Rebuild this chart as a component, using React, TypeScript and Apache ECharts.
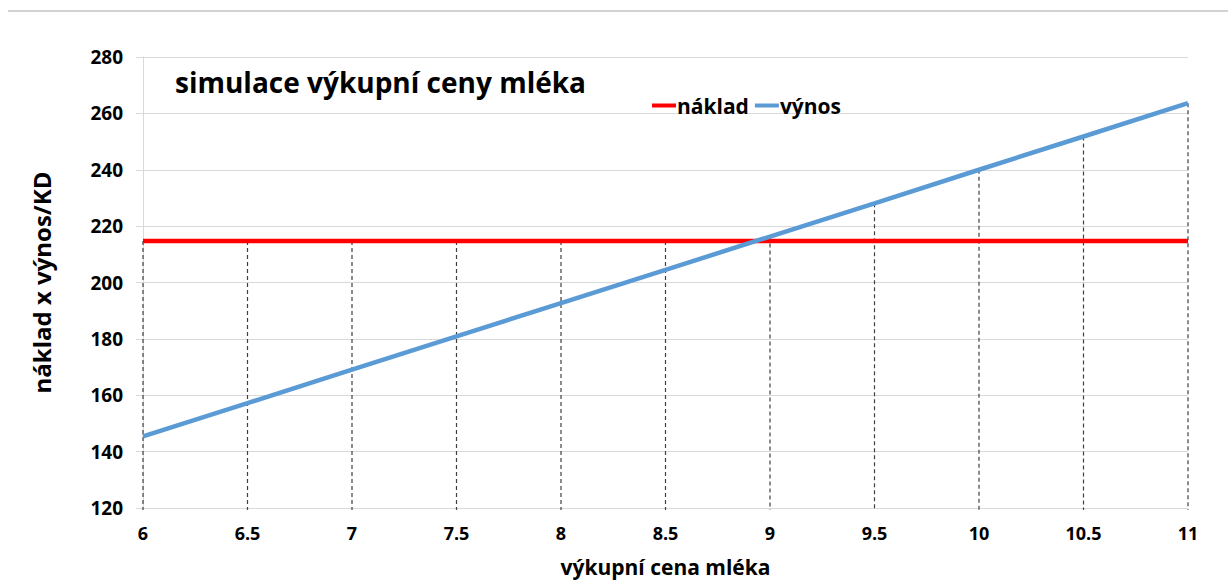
import React, { useEffect, useRef } from "react";
import * as echarts from "echarts";

const prices = [6, 6.5, 7, 7.5, 8, 8.5, 9, 9.5, 10, 10.5, 11];
const naklad = [214.7, 214.7, 214.7, 214.7, 214.7, 214.7, 214.7, 214.7, 214.7, 214.7, 214.7];
const vynos = [145.4, 157.2, 169.1, 180.9, 192.7, 204.5, 216.3, 228.1, 240.0, 251.8, 263.6];

const FONT = "'Open Sans', 'Noto Sans', sans-serif";

export default function App() {
  const ref = useRef<HTMLDivElement>(null);
  useEffect(() => {
    if (!ref.current) return;
    const chart = echarts.init(ref.current, null, { renderer: "svg" });
    const drops = prices.map((p, i) => [p, Math.max(naklad[i], vynos[i])]);
    const h = chart.getHeight();
    chart.setOption({
      animation: false,
      backgroundColor: "#ffffff",
      textStyle: { fontFamily: FONT },
      grid: { left: 143, right: 40, top: 57, bottom: h - 508, containLabel: false },
      title: {
        text: "simulace výkupní ceny mléka",
        left: 170,
        top: 63,
        textStyle: { fontFamily: FONT, fontWeight: "bold", fontSize: 28, color: "#000" },
      },
      legend: {
        left: 647,
        top: 90,
        icon: "rect",
        itemWidth: 24,
        itemHeight: 4,
        itemGap: 6,
        data: ["náklad", "výnos"],
        textStyle: { fontFamily: FONT, fontWeight: "bold", fontSize: 21, color: "#000", padding: [0, 0, 0, -4] },
      },
      graphic: [
        {
          type: "line",
          shape: { x1: 8, y1: 11, x2: 1228, y2: 11 },
          style: { stroke: "#a6a6a6", lineWidth: 1 },
          silent: true,
        },
      ],
      xAxis: {
        type: "value",
        min: 6,
        max: 11,
        interval: 0.5,
        name: "výkupní cena mléka",
        nameLocation: "middle",
        nameGap: 48,
        nameTextStyle: { fontFamily: FONT, fontWeight: "bold", fontSize: 21, color: "#000" },
        axisLine: { show: true, lineStyle: { color: "#d9d9d9", width: 1 } },
        axisTick: { show: false },
        splitLine: { show: false },
        axisLabel: { margin: 16, fontFamily: FONT, fontWeight: "bold", fontSize: 18, color: "#000" },
      },
      yAxis: {
        type: "value",
        min: 120,
        max: 280,
        interval: 20,
        name: "náklad x výnos/KD",
        nameLocation: "middle",
        nameGap: 90,
        nameTextStyle: { fontFamily: FONT, fontWeight: "bold", fontSize: 24, color: "#000" },
        axisLine: { show: true, lineStyle: { color: "#d9d9d9", width: 1 } },
        axisTick: { show: true, length: 7, lineStyle: { color: "#d9d9d9" } },
        splitLine: { show: true, lineStyle: { color: "#d9d9d9", width: 1 } },
        axisLabel: { margin: 20, fontFamily: FONT, fontWeight: "bold", fontSize: 19, color: "#000" },
      },
      series: [
        {
          name: "drops",
          type: "custom",
          silent: true,
          z: 1,
          data: drops,
          renderItem: (params: any, api: any) => {
            const top = api.coord([api.value(0), api.value(1)]);
            const bottom = api.coord([api.value(0), 120]);
            return {
              type: "line",
              shape: { x1: top[0], y1: top[1], x2: bottom[0], y2: bottom[1] + 2 },
              style: { stroke: "#404040", lineWidth: 1.2, lineDash: [4, 3] },
            };
          },
        },
        {
          name: "náklad",
          type: "line",
          z: 3,
          data: prices.map((p, i) => [p, naklad[i]]),
          showSymbol: false,
          symbol: "none",
          lineStyle: { color: "#ff0000", width: 4.5 },
          itemStyle: { color: "#ff0000" },
        },
        {
          name: "výnos",
          type: "line",
          z: 4,
          data: prices.map((p, i) => [p, vynos[i]]),
          showSymbol: false,
          symbol: "none",
          lineStyle: { color: "#5b9bd5", width: 4.5 },
          itemStyle: { color: "#5b9bd5" },
        },
      ],
    });
    return () => chart.dispose();
  }, []);
  return (
    <div
      ref={ref}
      style={{ position: "fixed", left: 0, top: 0, width: 1228, height: 583 }}
    />
  );
}
